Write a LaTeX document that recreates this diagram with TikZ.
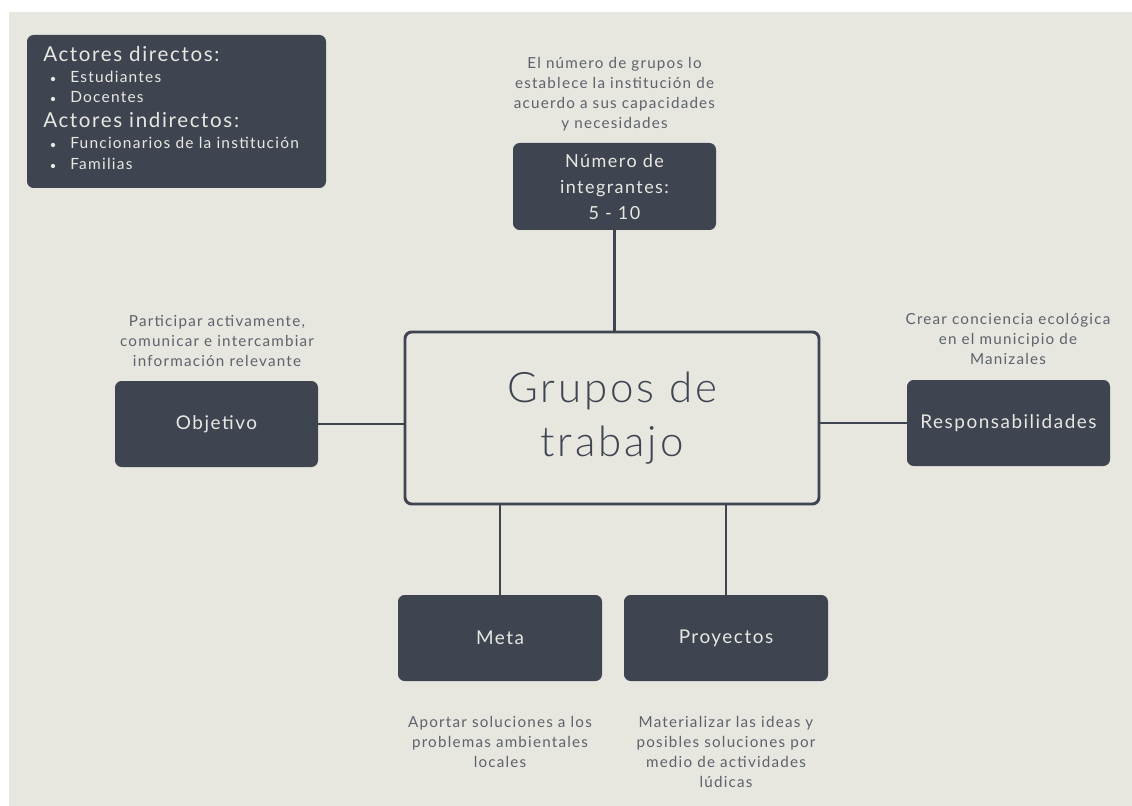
\documentclass[tikz,border=0pt]{standalone}
\usepackage{fontspec}
\setmainfont{Lato}[LetterSpace=8]
\newfontfamily\lightfont{Lato Light}[LetterSpace=7]
\definecolor{bg}{HTML}{E7E6DF}
\definecolor{dark}{HTML}{3E4450}
\definecolor{light}{HTML}{E8E8E2}
\definecolor{note}{HTML}{5D626C}
\begin{document}
\begin{tikzpicture}[x=0.75pt,y=-0.75pt,
  box/.style={fill=dark, rounded corners=5pt, text=light, align=center, inner sep=0pt,
    font=\fontsize{14.2}{19.5}\selectfont},
  note/.style={text=note, align=center, inner sep=0pt, font=\fontsize{11.4}{15}\selectfont},
  link/.style={draw=dark, line width=2.2pt},
  head/.style={anchor=base west, inner sep=0pt, text=light, font=\fontsize{15.4}{18}\selectfont},
  item/.style={anchor=base west, inner sep=0pt, text=light, font=\fontsize{11.6}{13}\selectfont},
  dot/.style={circle, fill=light, inner sep=0pt, minimum size=3.2pt}]
\useasboundingbox (0,0) rectangle (1132,806);
\fill[white] (0,0) rectangle (1132,806);
\fill[bg] (9,12) rectangle (1132,806);

% actors box
\node[box, minimum width=224.25pt, minimum height=114.75pt] (actors) at (176.5,111.5) {};
\node[head] (h1) at (43,62) {Actores directos:};
\node[dot] (d1) at (53,79) {};
\node[item] (i1) at (70,83) {Estudiantes};
\node[dot] (d2) at (53,99) {};
\node[item] (i2) at (70,103) {Docentes};
\node[head] (h2) at (43,128) {Actores indirectos:};
\node[dot] (d3) at (53,145) {};
\node[item] (i3) at (70,149) {Funcionarios de la instituci\'on};
\node[dot] (d4) at (53,166) {};
\node[item] (i4) at (70,170) {Familias};

% central
\node[draw=dark, line width=2.2pt, rounded corners=5pt, minimum width=310.5pt, minimum height=129pt,
  text=dark, align=center, font=\lightfont\fontsize{31.5}{41}\selectfont] (center) at (612,418) {Grupos de\\trabajo};

% boxes
\node[box, minimum width=152.25pt, minimum height=65.25pt, font=\fontsize{13.5}{19.5}\selectfont] (num) at (614.5,186.5) {Número de\\integrantes:\\5 - 10};
\node[box, minimum width=152.25pt, minimum height=64.5pt] (obj) at (216.5,424) {Objetivo};
\node[box, minimum width=152.25pt, minimum height=64.5pt] (resp) at (1008.5,423) {Responsabilidades};
\node[box, minimum width=153pt, minimum height=64.5pt] (meta) at (500,638) {Meta};
\node[box, minimum width=153pt, minimum height=64.5pt] (proy) at (726,638) {Proyectos};

% connectors
\draw[link] (num.south) -- (center.north -| num.south);
\draw[link] (obj.east) -- (center.west |- obj.east);
\draw[link] (resp.west) -- (center.east |- resp.west);
\draw[link] (meta.north) -- (center.south -| meta.north);
\draw[link] (proy.north) -- (center.south -| proy.north);

% notes
\node[note] (nnum) at (614.5,94) {El número de grupos lo\\establece la institución de\\acuerdo a sus capacidades\\y necesidades};
\node[note] (nobj) at (217,341) {Participar activamente,\\comunicar e intercambiar\\información relevante};
\node[note] (nresp) at (1008,338.5) {Crear conciencia ecológica\\en el municipio de\\Manizales};
\node[note] (nmeta) at (500,742) {Aportar soluciones a los\\problemas ambientales\\locales};
\node[note] (nproy) at (726,752) {Materializar las ideas y\\posibles soluciones por\\medio de actividades\\lúdicas};
\end{tikzpicture}
\end{document}
